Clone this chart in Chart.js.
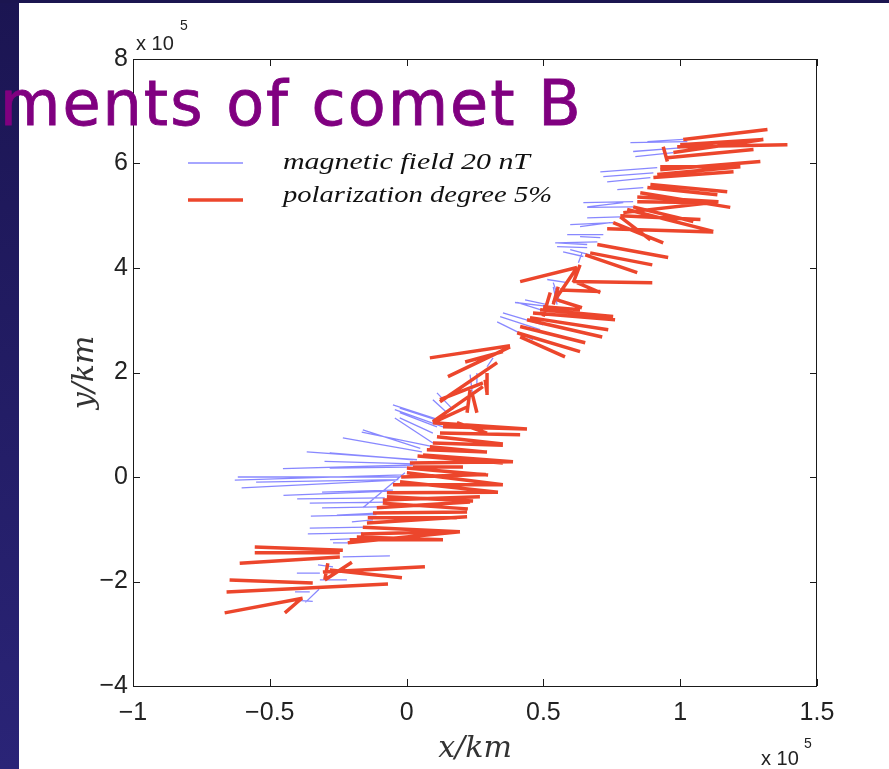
<!DOCTYPE html>
<html>
<head>
<meta charset="utf-8">
<script src="https://cdn.jsdelivr.net/npm/chart.js@4.4.1/dist/chart.umd.min.js"></script>
<style>
  html, body { margin: 0; padding: 0; background: #fff; }
  #wrap { position: relative; width: 889px; height: 769px; overflow: hidden; }
  #myChart { position: absolute; left: 0; top: 0; }
  #strip { position: absolute; left: 0; top: 0; width: 19px; height: 769px; background: linear-gradient(#1b1552, #2a2477); }
  #band { position: absolute; left: 0; top: 0; width: 889px; height: 3px; background: #1b1550; }
  #title { position: absolute; left: 0; top: 73px; font-family: "DejaVu Sans"; font-size: 62px; line-height: 62px;
           letter-spacing: 2px; color: #800080; white-space: nowrap; -webkit-text-stroke: 0.8px #800080; }
</style>
</head>
<body>
<div id="wrap">
  <canvas id="myChart" width="889" height="769"></canvas>
  <div id="strip"></div>
  <div id="band"></div>
  <div id="title">ments of comet B</div>
</div>
<script>
// segments in units of 10^5 km: [x0, y0, x1, y1]
var blueSegments = [
  [-0.628,-0.06,-0.013,0.04], [-0.617,0.00,-0.024,0.00], [-0.603,-0.21,-0.035,-0.06],
  [-0.452,0.16,0.023,0.23], [-0.365,0.48,0.038,0.33], [-0.233,0.75,0.056,0.48],
  [-0.164,0.86,0.096,0.58], [-0.050,1.38,0.122,1.09], [-0.043,1.29,0.133,0.96],
  [-0.043,1.13,0.096,0.65], [0.111,1.61,0.170,1.29], [0.096,1.48,0.148,1.23],
  [-0.309,-0.29,-0.050,-0.25], [-0.354,-0.50,-0.072,-0.48], [-0.309,-0.59,-0.098,-0.57],
  [-0.255,-0.73,-0.109,-0.69], [-0.200,-0.86,-0.123,-0.82], [-0.354,-0.98,-0.145,-0.96],
  [-0.361,-1.09,-0.160,-1.07], [-0.269,-1.26,-0.196,-1.26], [-0.233,-1.53,-0.061,-1.51],
  [-0.324,-1.68,-0.269,-1.72], [-0.401,-1.84,-0.317,-1.84], [-0.317,-1.97,-0.218,-1.97],
  [-0.408,-2.20,-0.354,-2.20], [-0.401,-2.36,-0.343,-2.38], [-0.160,-0.59,-0.006,0.08],
  [-0.370,-2.40,-0.320,-2.15],
  [-0.281,0.46,0.023,0.33], [-0.281,0.17,0.001,0.19], [-0.550,-0.10,-0.030,-0.05],
  [-0.450,-0.35,-0.060,-0.27], [-0.400,-0.42,-0.080,-0.40], [-0.300,0.30,0.030,0.25],
  [-0.350,-0.75,-0.110,-0.72], [-0.280,-1.20,-0.180,-1.18], [-0.160,0.90,0.050,0.55],
  [0.331,2.97,0.462,2.63], [0.342,3.07,0.488,2.82], [0.352,3.14,0.499,2.91],
  [0.404,3.34,0.514,3.16], [0.433,3.39,0.514,3.30], [0.514,3.78,0.587,3.72],
  [0.536,3.64,0.550,3.30], [0.232,1.96,0.240,1.61], [0.257,1.99,0.257,1.73],
  [-0.025,1.32,0.111,1.09], [-0.025,1.23,0.111,0.96], [-0.025,1.13,0.096,0.84],
  [0.550,4.48,0.660,4.45], [0.598,4.35,0.671,4.25], [0.294,2.11,0.316,2.28],
  [0.818,6.40,1.026,6.42], [0.880,6.42,1.011,6.46], [0.828,6.23,1.000,6.30],
  [0.836,6.13,0.975,6.21], [0.708,5.84,0.916,5.92], [0.719,5.75,0.902,5.82],
  [0.733,5.65,0.891,5.73], [0.770,5.50,0.865,5.54], [0.646,5.25,0.828,5.27],
  [0.660,5.16,0.828,5.17], [0.660,4.96,0.781,4.98], [0.598,4.83,0.755,4.87],
  [0.587,4.64,0.719,4.64], [0.543,4.48,0.697,4.50], [0.550,4.41,0.660,4.39],
  [0.572,4.31,0.646,4.22], [0.628,4.10,0.641,4.29], [0.396,3.34,0.525,3.26],
  [0.536,3.72,0.561,3.34], [0.660,5.17,0.792,5.25], [0.634,4.79,0.744,4.87],
  [0.634,4.60,0.708,4.58]
];

var redSegments = [
  [-0.665,-2.60,-0.380,-2.32], [-0.445,-2.60,-0.383,-2.32], [-0.658,-2.20,-0.068,-2.05],
  [-0.647,-1.97,-0.343,-2.03], [-0.299,-1.97,-0.200,-1.63], [-0.288,-1.65,-0.299,-1.97],
  [-0.306,-1.82,0.067,-1.72], [-0.281,-1.78,-0.017,-1.93], [-0.610,-1.65,-0.244,-1.53],
  [-0.555,-1.34,-0.233,-1.40], [-0.555,-1.45,-0.244,-1.45], [-0.215,-1.26,0.195,-1.05],
  [-0.208,-1.20,0.133,-1.20], [-0.160,-0.96,0.195,-1.05], [-0.145,-0.88,0.221,-0.76],
  [-0.123,-0.69,0.221,-0.67], [-0.109,-0.59,0.232,-0.48], [-0.087,-0.44,0.268,-0.38],
  [-0.072,-0.30,0.334,-0.29], [-0.050,-0.15,0.352,-0.15], [-0.020,0.00,0.290,0.05],
  [0.001,0.17,0.298,0.04], [0.012,0.27,0.389,0.29], [0.040,0.40,0.352,0.27],
  [0.074,0.52,0.294,0.48], [0.096,0.65,0.352,0.61], [0.122,0.84,0.415,0.81],
  [0.133,0.96,0.440,0.92], [0.096,1.04,0.221,1.34], [0.122,1.48,0.279,1.80],
  [0.221,1.23,0.232,1.67], [0.257,1.23,0.239,1.61], [0.294,1.61,0.287,1.86],
  [0.184,1.04,0.294,0.84], [0.085,2.28,0.378,2.51], [0.151,1.92,0.378,2.49],
  [0.214,2.20,0.352,2.40], [0.122,1.44,0.331,2.19], [0.096,1.06,0.279,1.73],
  [0.294,1.57,0.294,1.99],
  [-0.024,-0.09,0.334,-0.29], [-0.072,-0.38,0.243,-0.46], [-0.087,-0.50,0.224,-0.61],
  [-0.142,-0.78,0.184,-0.78], [-0.182,-1.15,0.133,-1.20], [-0.167,-1.09,0.140,-1.05],
  [0.001,0.08,0.352,-0.15], [0.023,0.19,0.206,0.19], [0.060,0.42,0.389,0.29],
  [0.085,0.58,0.287,0.48], [0.111,0.77,0.352,0.63], [0.096,1.04,0.440,0.92],
  [0.415,2.68,0.579,2.30], [0.404,2.76,0.634,2.40],
  [0.415,2.88,0.653,2.57], [0.440,3.01,0.715,2.68], [0.451,3.05,0.737,2.82],
  [0.462,3.14,0.762,3.01], [0.488,3.20,0.755,3.07], [0.499,3.26,0.634,3.20],
  [0.499,3.07,0.525,3.53], [0.536,3.30,0.554,3.64], [0.536,3.34,0.623,4.01],
  [0.550,3.39,0.641,3.24], [0.415,3.74,0.623,4.01], [0.609,3.74,0.898,3.72],
  [0.623,3.72,0.708,3.53], [0.653,4.25,0.843,3.91], [0.671,4.29,0.898,4.06],
  [0.697,4.45,0.956,4.20], [1.011,6.46,1.319,6.65], [0.989,6.32,1.392,6.36],
  [0.975,6.21,1.304,6.46], [0.953,6.11,1.268,6.27], [0.927,5.88,1.293,6.04],
  [0.916,5.79,1.220,5.94], [0.902,5.73,1.195,5.84], [0.891,5.60,1.172,5.46],
  [0.880,5.54,1.136,5.40], [0.854,5.44,1.183,5.16], [0.843,5.27,1.136,5.25],
  [0.828,5.17,1.048,4.89], [0.806,5.12,1.121,4.70], [0.781,5.00,1.074,4.93],
  [0.755,4.87,0.938,4.48], [0.733,4.75,1.121,4.69], [0.634,4.06,0.609,3.72],
  [0.561,3.58,0.708,3.55], [0.938,6.32,0.953,6.04],
  [1.000,6.36,1.304,6.46], [0.927,5.94,1.220,5.94], [0.843,5.36,1.140,5.27],
  [0.792,5.06,1.110,5.25], [0.781,4.98,0.891,4.54]
];

var seriesNames = ['magnetic field 20 nT', 'polarization degree 5%'];
var xTicks = [-1, -0.5, 0, 0.5, 1, 1.5];
var yTicks = [-4, -2, 0, 2, 4, 6, 8];

// turn segments into one broken polyline (null y = gap)
function toPoints(segs) {
  var pts = [];
  segs.forEach(function (s) {
    pts.push({x: s[0], y: s[1]}, {x: s[2], y: s[3]}, {x: s[2], y: null});
  });
  return pts;
}

function fmt(v) {
  return v < 0 ? '\u2212' + Math.abs(v) : String(v);
}

var boxPlugin = {
  id: 'box',
  afterDatasetsDraw: function (chart) {
    var ctx = chart.ctx, a = chart.chartArea;
    var xs = chart.scales.x, ys = chart.scales.y;
    ctx.save();
    ctx.strokeStyle = '#1a1a1a';
    ctx.lineWidth = 1;
    ctx.strokeRect(a.left + 0.5, a.top + 0.5, a.right - a.left - 1, a.bottom - a.top);
    // inward ticks on all four sides
    ctx.beginPath();
    xTicks.forEach(function (v) {
      var p = Math.round(xs.getPixelForValue(v)) + 0.5;
      ctx.moveTo(p, a.bottom); ctx.lineTo(p, a.bottom - 7);
      ctx.moveTo(p, a.top); ctx.lineTo(p, a.top + 7);
    });
    yTicks.forEach(function (v) {
      var p = Math.round(ys.getPixelForValue(v)) + 0.5;
      ctx.moveTo(a.left, p); ctx.lineTo(a.left + 7, p);
      ctx.moveTo(a.right, p); ctx.lineTo(a.right - 7, p);
    });
    ctx.stroke();

    // legend (no frame, like matlab)
    var ds = chart.data.datasets;
    var rows = [{d: ds[1], y: a.top + 104, tb: a.top + 110, w: 247},
                {d: ds[0], y: a.top + 141, tb: a.top + 143, w: 269}];
    rows.forEach(function (r) {
      ctx.strokeStyle = r.d.borderColor;
      ctx.lineWidth = r.d.borderWidth;
      ctx.beginPath();
      ctx.moveTo(a.left + 55, r.y); ctx.lineTo(a.left + 110, r.y);
      ctx.stroke();
      ctx.fillStyle = '#111';
      ctx.font = 'italic 24px "Liberation Serif"';
      ctx.textBaseline = 'alphabetic';
      ctx.textAlign = 'left';
      var m = ctx.measureText(r.d.label).width;
      ctx.save();
      ctx.translate(a.left + 150, r.tb);
      ctx.scale(r.w / m, 1);
      ctx.fillText(r.d.label, 0, 0);
      ctx.restore();
    });

    // axis titles
    ctx.fillStyle = '#333';
    ctx.font = 'italic 30px "DejaVu Serif"';
    ctx.textAlign = 'center';
    ctx.fillText('x/km', (a.left + a.right) / 2, 757);
    ctx.save();
    ctx.translate(93, (a.top + a.bottom) / 2);
    ctx.rotate(-Math.PI / 2);
    ctx.fillText('y/km', 0, 0);
    ctx.restore();

    // exponent labels
    ctx.fillStyle = '#222';
    ctx.textAlign = 'left';
    ctx.font = '20px "Liberation Sans"';
    ctx.fillText('x 10', a.left + 3, a.top - 9);
    ctx.fillText('x 10', a.right - 56, 765);
    ctx.font = '14px "Liberation Sans"';
    ctx.fillText('5', a.left + 47, a.top - 29);
    ctx.fillText('5', a.right - 13, 748);
    ctx.restore();
  }
};

var ctx = document.getElementById('myChart').getContext('2d');
var myChart = new Chart(ctx, {
  type: 'scatter',
  data: {
    datasets: [{
      label: seriesNames[1],
      data: toPoints(redSegments),
      showLine: true,
      borderColor: 'rgba(236, 70, 44, 1)',
      borderWidth: 3.5,
      pointRadius: 0,
      spanGaps: false,
      order: 0
    }, {
      label: seriesNames[0],
      data: toPoints(blueSegments),
      showLine: true,
      borderColor: 'rgba(115, 115, 255, 0.85)',
      borderWidth: 1.3,
      pointRadius: 0,
      spanGaps: false,
      order: 1
    }]
  },
  options: {
    responsive: false,
    animation: false,
    layout: { padding: { left: 0, top: 59, right: 72, bottom: 0 } },
    plugins: { legend: { display: false }, tooltip: { enabled: false } },
    scales: {
      x: {
        type: 'linear', min: -1, max: 1.5,
        grid: { display: false, drawTicks: false },
        border: { display: false },
        afterFit: function (s) { s.height = 83; },
        afterBuildTicks: function (s) { s.ticks = xTicks.map(function (v) { return {value: v}; }); },
        ticks: {
          autoSkip: false, maxRotation: 0, padding: 12, color: '#222',
          font: { family: 'Liberation Sans', size: 25 },
          callback: fmt
        }
      },
      y: {
        type: 'linear', min: -4, max: 8,
        grid: { display: false, drawTicks: false },
        border: { display: false },
        afterFit: function (s) { s.width = 133; },
        afterBuildTicks: function (s) { s.ticks = yTicks.map(function (v) { return {value: v}; }); },
        ticks: {
          autoSkip: false, padding: 5, color: '#222',
          font: { family: 'Liberation Sans', size: 25 },
          callback: fmt
        }
      }
    }
  },
  plugins: [boxPlugin]
});
</script>
</body>
</html>
